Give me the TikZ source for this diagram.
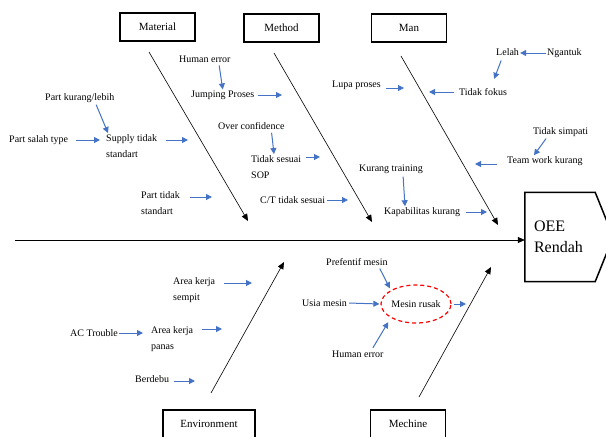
\documentclass[tikz,border=0pt]{standalone}
\usepackage{fontspec}
\setmainfont{Liberation Serif}
\usepackage{xcolor}
\definecolor{causeblue}{RGB}{68,114,196}
\usepackage{tikz}
\usetikzlibrary{
  arrows.meta,
  positioning,
  shapes.geometric
}
\tikzset{
  catbox/.style={draw, line width=1.5pt, minimum width=75pt,
    minimum height=28pt, inner sep=2pt, font=\fontsize{11}{13}\selectfont},
  cause/.style={anchor=west, inner sep=1pt, align=left,
    font=\fontsize{10}{16.5}\selectfont},
  bone/.style={-{Triangle[length=7pt,width=6pt]}, line width=0.6pt},
  barr/.style={-{Triangle[length=6pt,width=6pt]}, line width=1pt, causeblue},
}

\begin{document}
\begin{tikzpicture}[x=1pt, y=-1pt]
  \useasboundingbox (0,0) rectangle (606,437);

  % Categories
  \node[catbox] (material) at (157.5,27) {Material};
  \node[catbox] (method) at (281.5,28) {Method};
  \node[catbox] (man) at (409,28) {Man};
  \node[catbox, minimum width=92pt] (environment) at (209,424) {Environment};
  \node[catbox] (mechine) at (408,424) {Mechine};

  % Effect
  \node[minimum width=70pt, minimum height=89pt, text width=52pt,
        align=left, font=\fontsize{16}{21}\selectfont] (oee) at (560,237) {OEE\\Rendah};
  \draw[line width=1.5pt] (oee.north west) -- (oee.north east) -- ++(18,44.5)
    -- (oee.south east) -- (oee.south west) -- cycle;

  % Bones
  \coordinate (spineS) at (15,240);
  \coordinate (matS) at (149,52);   \coordinate (matE) at (248,221);
  \coordinate (metS) at (274,53);   \coordinate (metE) at (372,222);
  \coordinate (manS) at (401,56);   \coordinate (manE) at (498,225);
  \coordinate (envS) at (211,393);  \coordinate (envE) at (284,262);
  \coordinate (mecS) at (419,397);  \coordinate (mecE) at (491,267);
  \draw[bone] (spineS) -- (oee.west |- spineS);
  \draw[bone] (matS) -- (matE);
  \draw[bone] (metS) -- (metE);
  \draw[bone] (manS) -- (manE);
  \draw[bone] (envS) -- (envE);
  \draw[bone] (mecS) -- (mecE);

  % Material causes
  \node[cause] (hErrA) at (178,59) {Human error};
  \node[cause] (jump) at (190,95) {Jumping Proses};
  \node[cause] (pKurang) at (44,98) {Part kurang/lebih};
  \node[cause] (pSalah) at (8,140) {Part salah type};
  \node[cause] (supply) at (105,146) {Supply tidak\\standart};
  \node[cause] (pTidak) at (140,203) {Part tidak\\standart};
  \coordinate (jumpT) at (282,95);
  \coordinate (supplyT) at (188,140);
  \coordinate (pTidakT) at (212,197);
  \draw[barr, shorten <=2pt] ([xshift=14]hErrA.south) -- (jump.north);
  \draw[barr, shorten <=3pt] (jump.east) -- (jumpT);
  \draw[barr, shorten <=1pt] ([xshift=16]pKurang.south) -- ([xshift=3]supply.north west);
  \draw[barr, shorten <=7pt, shorten >=5pt] (pSalah.east) -- (pSalah.east -| supply.west);
  \draw[barr, shorten <=8pt] (supply.east |- supplyT) -- (supplyT);
  \draw[barr, shorten <=9pt] (pTidak.east |- pTidakT) -- (pTidakT);

  % Method causes
  \node[cause] (overC) at (217,126) {Over confidence};
  \node[cause] (sop) at (250,167) {Tidak sesuai\\SOP};
  \node[cause] (ctSesuai) at (259,200) {C/T tidak sesuai};
  \node[cause] (kTraining) at (358,169) {Kurang training};
  \node[cause] (kapa) at (383,212) {Kapabilitas kurang};
  \coordinate (sopT) at (320,157);
  \coordinate (ctT) at (348,200);
  \coordinate (kapaT) at (487,212);
  \draw[barr, shorten <=2pt] ([xshift=20]overC.south) -- ([xshift=24]sop.north west);
  \draw[barr, shorten <=4pt] (sop.east |- sopT) -- (sopT);
  \draw[barr, shorten <=1pt] (ctSesuai.east) -- (ctT);
  \draw[barr, shorten <=2pt] ([xshift=12]kTraining.south) -- ([xshift=22]kapa.north west);
  \draw[barr, shorten <=5pt] (kapa.east) -- (kapaT);

  % Man causes
  \node[cause] (lupa) at (331,85) {Lupa proses};
  \node[cause] (fokus) at (458,92) {Tidak fokus};
  \node[cause] (lelah) at (495,52) {Lelah};
  \node[cause] (ngantuk) at (546,53) {Ngantuk};
  \node[cause] (simpati) at (532,132) {Tidak simpati};
  \node[cause] (team) at (506,161) {Team work kurang};
  \coordinate (lupaT) at (404,88);
  \coordinate (fokusT) at (429,92);
  \coordinate (teamT) at (475,164);
  \draw[barr, shorten <=4pt] (lupa.east |- lupaT) -- (lupaT);
  \draw[barr, shorten <=4pt] (fokus.west) -- (fokusT);
  \draw[barr] (ngantuk.west) -- (lelah.east |- ngantuk.west);
  \draw[barr, shorten <=4pt, shorten >=9pt] ([xshift=-5]lelah.south) -- ([xshift=33]fokus.north west);
  \draw[barr, shorten <=1pt] ([xshift=-14]simpati.south) -- ([xshift=28]team.north west);
  \draw[barr, shorten <=9pt] (team.west |- teamT) -- (teamT);

  % Environment causes
  \node[cause] (aSempit) at (172,290) {Area kerja\\sempit};
  \node[cause] (acTrouble) at (69,333) {AC Trouble};
  \node[cause] (aPanas) at (150,339) {Area kerja\\panas};
  \node[cause] (debu) at (134,379) {Berdebu};
  \coordinate (aSempitT) at (252,283);
  \coordinate (aPanasT) at (222,329);
  \coordinate (debuT) at (195,381);
  \draw[barr, shorten <=8pt] (aSempit.east |- aSempitT) -- (aSempitT);
  \draw[barr, shorten >=7pt] (acTrouble.east) -- (aPanas.west |- acTrouble.east);
  \draw[barr, shorten <=8pt] (aPanas.east |- aPanasT) -- (aPanasT);
  \draw[barr, shorten <=4pt] (debu.east |- debuT) -- (debuT);

  % Mechine causes
  \node[draw=red, line width=1.2pt, dash pattern=on 4pt off 3pt, ellipse,
        minimum width=70pt, minimum height=38pt, inner sep=0pt,
        font=\fontsize{10}{12}\selectfont] (rusak) at (416,304) {Mesin rusak};
  \node[cause] (pref) at (325,262) {Prefentif mesin};
  \node[cause] (usia) at (301,303) {Usia mesin};
  \node[cause] (hErrB) at (331,354) {Human error};
  \coordinate (rusakT) at (466,304);
  \draw[barr, shorten <=2pt, shorten >=2pt] ([xshift=22]pref.south) -- (rusak.north west);
  \draw[barr, shorten <=1pt, shorten >=1pt] (usia.east) -- (rusak.west);
  \draw[barr, shorten <=2pt, shorten >=5pt] ([xshift=14]hErrB.north) -- (rusak.south west);
  \draw[barr, shorten <=2pt] (rusak.east) -- (rusakT);
\end{tikzpicture}
\end{document}
